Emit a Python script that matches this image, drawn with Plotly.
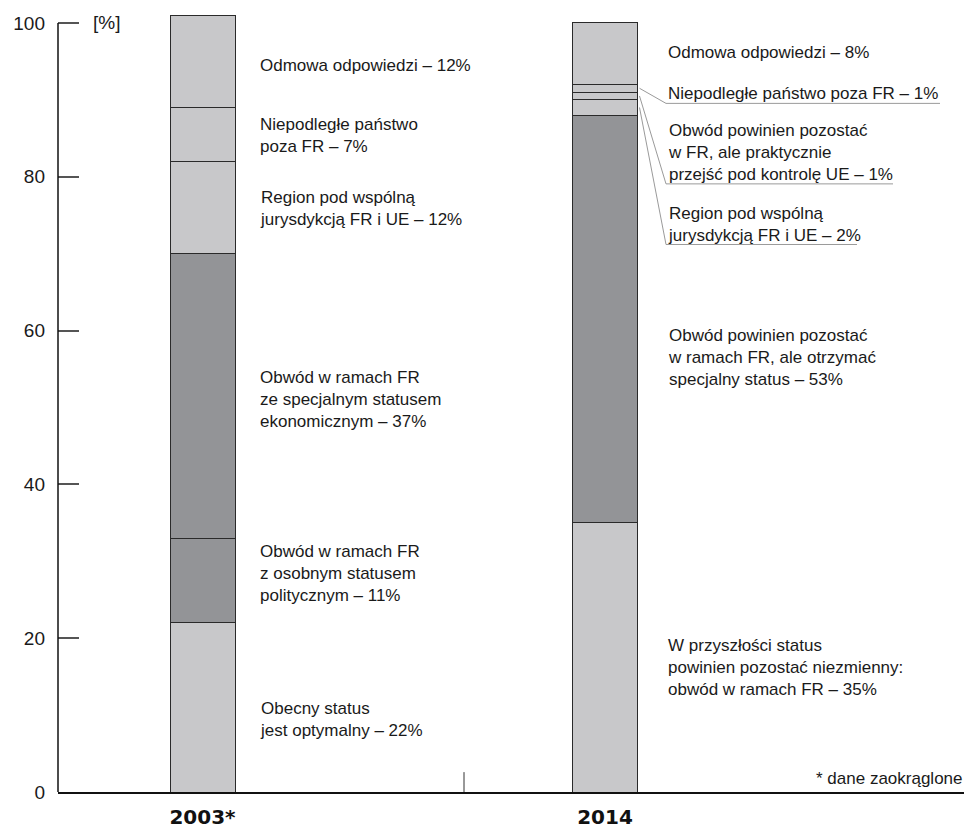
import plotly.graph_objects as go

# ---------------- data ----------------
years = ["2003*", "2014"]

labels_2003 = [
    "Obecny status<br>jest optymalny – 22%",
    "Obwód w ramach FR<br>z osobnym statusem<br>politycznym – 11%",
    "Obwód w ramach FR<br>ze specjalnym statusem<br>ekonomicznym – 37%",
    "Region pod wspólną<br>jurysdykcją FR i UE – 12%",
    "Niepodległe państwo<br>poza FR – 7%",
    "Odmowa odpowiedzi – 12%",
]
values_2003 = [22, 11, 37, 12, 7, 12]
shade_2003 = ["light", "dark", "dark", "light", "light", "light"]

labels_2014 = [
    "W przyszłości status<br>powinien pozostać niezmienny:<br>obwód w ramach FR – 35%",
    "Obwód powinien pozostać<br>w ramach FR, ale otrzymać<br>specjalny status – 53%",
    "Region pod wspólną<br>jurysdykcją FR i UE – 2%",
    "Obwód powinien pozostać<br>w FR, ale praktycznie<br>przejść pod kontrolę UE – 1%",
    "Niepodległe państwo poza FR – 1%",
    "Odmowa odpowiedzi – 8%",
]
values_2014 = [35, 53, 2, 1, 1, 8]
shade_2014 = ["light", "dark", "light", "light", "light", "light"]

y_ticks = [0, 20, 40, 60, 80, 100]
footnote = "* dane zaokrąglone"
unit_label = "[%]"

# ---------------- styles / layout constants ----------------
OFF = 8                      # page body margin in the browser
W, H = 972 - OFF, 829 - OFF
AX_LEFT, AX_RIGHT = 58, 971  # window pixels
AX_TOP, AX_BOTTOM = 8, 797
ML, MR = AX_LEFT - OFF, W - (AX_RIGHT - OFF)
MT, MB = AX_TOP - OFF, H - (AX_BOTTOM - OFF)
PW, PH = AX_RIGHT - AX_LEFT, AX_BOTTOM - AX_TOP
PX_PER_UNIT = 7.74
Y_TOP = PH / PX_PER_UNIT
CAT_PX = [202.5, 605.0]      # window x of category centres
CAT_STEP = CAT_PX[1] - CAT_PX[0]
X_RANGE = [(AX_LEFT - CAT_PX[0]) / CAT_STEP, (AX_RIGHT - CAT_PX[0]) / CAT_STEP]
BAR_W = 65 / CAT_STEP
COL = {"light": "#c8c8ca", "dark": "#939497"}
FONT = "Liberation Sans, Arial, sans-serif"
BOLD_FONT = "DejaVu Sans, Liberation Sans, sans-serif"
TXT = "#1a1a1a"


def px_x(px):
    return (px - AX_LEFT) / PW


def px_y(py):
    return (AX_BOTTOM - py) / PH


def val_from_px(py):
    return (AX_BOTTOM - py) / PX_PER_UNIT


def xcat_from_px(px):
    return (px - CAT_PX[0]) / CAT_STEP


fig = go.Figure()

for xi, (vals, shades) in enumerate([(values_2003, shade_2003), (values_2014, shade_2014)]):
    for v, s in zip(vals, shades):
        fig.add_trace(go.Bar(
            x=[years[xi]], y=[v], width=BAR_W,
            marker=dict(color=COL[s], line=dict(color="#2a2a2a", width=1)),
            showlegend=False, hoverinfo="skip",
        ))

# label positions (pixel centres)
lab_y_2003 = [724, 577, 402, 209.5, 136.5, 66]
lab_y_2014 = [672, 360, 226, 153.7, 94, 53]
LX_2003 = xcat_from_px(258)
LX_2014 = xcat_from_px(666)

annotations = []
for txt, py in zip(labels_2003, lab_y_2003):
    annotations.append(dict(x=LX_2003, y=val_from_px(py), xref="x", yref="y",
                            text=txt, showarrow=False, xanchor="left", yanchor="middle",
                            align="left", font=dict(family=FONT, size=17, color=TXT)))
for txt, py in zip(labels_2014, lab_y_2014):
    annotations.append(dict(x=LX_2014, y=val_from_px(py), xref="x", yref="y",
                            text=txt, showarrow=False, xanchor="left", yanchor="middle",
                            align="left", font=dict(family=FONT, size=17, color=TXT)))

annotations.append(dict(x=px_x(91), y=px_y(23), xref="paper", yref="paper", text=unit_label,
                        showarrow=False, xanchor="left", yanchor="middle",
                        font=dict(family=FONT, size=19, color=TXT)))
annotations.append(dict(x=px_x(965), y=px_y(783), xref="paper", yref="paper", text=footnote,
                        showarrow=False, xanchor="right", yanchor="middle",
                        font=dict(family=FONT, size=17, color=TXT)))

shapes = []
# y axis line from 0 to 100
shapes.append(dict(type="line", xref="paper", yref="y", x0=0, x1=0, y0=0, y1=100,
                   line=dict(color="#111", width=1.5)))
# middle separator tick
shapes.append(dict(type="line", xref="paper", yref="paper", x0=px_x(464), x1=px_x(464),
                   y0=0, y1=px_y(777), line=dict(color="#333", width=1)))
# right end tick
shapes.append(dict(type="line", xref="paper", yref="paper", x0=px_x(970), x1=px_x(970),
                   y0=0, y1=px_y(779), line=dict(color="#333", width=1)))

# leader lines for thin 2014 segments
cum = 0
centers_2014 = []
for v in values_2014:
    centers_2014.append(cum + v / 2)
    cum += v
bar_edge = 1 + BAR_W / 2 + 0.005
leaders = [  # (segment index, underline y px, underline end x px)
    (4, 104, 940),
    (3, 185, 893),
    (2, 246, 857),
]
for idx, uy, ux in leaders:
    yv = val_from_px(uy)
    xend = xcat_from_px(ux)
    shapes.append(dict(type="path", xref="x", yref="y",
                       path=f"M {bar_edge},{centers_2014[idx]} L {LX_2014},{yv} L {xend},{yv}",
                       line=dict(color="#9a9a9a", width=1)))

fig.update_layout(
    width=W, height=H,
    margin=dict(l=ML, r=MR, t=MT, b=MB, pad=0),
    paper_bgcolor="white", plot_bgcolor="white",
    barmode="stack",
    xaxis=dict(type="category", range=X_RANGE, showgrid=False, zeroline=False,
               showline=True, linecolor="#111", linewidth=1.5,
               ticks="", tickfont=dict(family=BOLD_FONT, size=20, color="#111"),
               tickvals=years, ticktext=[f"<b>{y}</b>" for y in years],
               ticklabelstandoff=6),
    yaxis=dict(range=[0, Y_TOP], showgrid=False, zeroline=False, showline=False,
               tickvals=y_ticks, ticks="inside", ticklen=21, tickcolor="#555", tickwidth=1.5,
               tickfont=dict(family=FONT, size=19, color=TXT), ticklabelstandoff=12),
    annotations=annotations,
    shapes=shapes,
)

fig.write_html("out.html")
